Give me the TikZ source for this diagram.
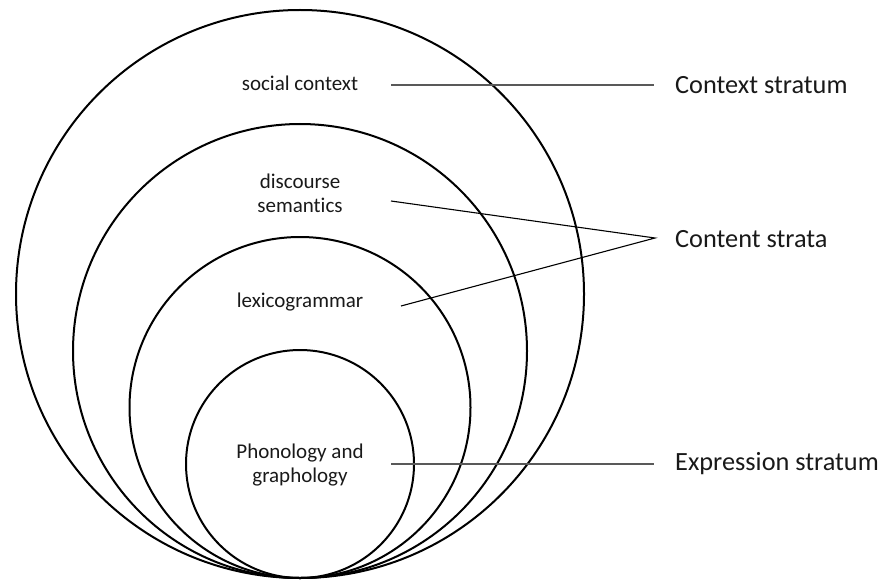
\documentclass[tikz,border=0pt]{standalone}
\usepackage{fontspec}
\setmainfont{Carlito}[RawFeature=-liga]
\begin{document}
\begin{tikzpicture}[x=1pt,y=-1pt,
  ring/.style={draw=black,line width=2pt},
  inlabel/.style={align=center,font=\fontsize{21}{24}\selectfont,text=black!90,inner sep=0pt},
  outlabel/.style={anchor=west,font=\fontsize{26.3}{30}\selectfont,text=black!90,inner sep=0pt},
  grayline/.style={draw=black!65,line width=1.5pt},
  thinline/.style={draw=black,line width=1.1pt}]
\useasboundingbox (0,0) rectangle (885,580);
% nested circles, all tangent at the bottom
\draw[ring] (300,294) circle[radius=284pt];
\draw[ring] (300,351) circle[radius=227pt];
\draw[ring] (300,407.5) circle[radius=170.5pt];
\draw[ring] (300,464) circle[radius=114pt];
% inner labels
\node[inlabel] (social) at (300,83) {social context};
\node[inlabel] (disc) at (300,193) {discourse\\semantics};
\node[inlabel] (lexi) at (300,302) {lexicogrammar};
\node[inlabel] (phon) at (300,465) {Phonology and\\graphology};
% outer labels
\node[outlabel] (ctx) at (675,85) {Context stratum};
\node[outlabel] (cnt) at (675,239) {Content strata};
\node[outlabel] (exp) at (675,464) {Expression stratum};
% connector end points
\coordinate (s1) at (391,85);
\coordinate (s2) at (654,85);
\coordinate (d1) at (391,201);
\coordinate (apex) at (655,238);
\coordinate (l1) at (401,306);
\coordinate (e1) at (391,464);
\coordinate (e2) at (654,464);
\draw[grayline] (s1) -- (s2);
\draw[thinline] (d1) -- (apex) -- (l1);
\draw[grayline] (e1) -- (e2);
\end{tikzpicture}
\end{document}
